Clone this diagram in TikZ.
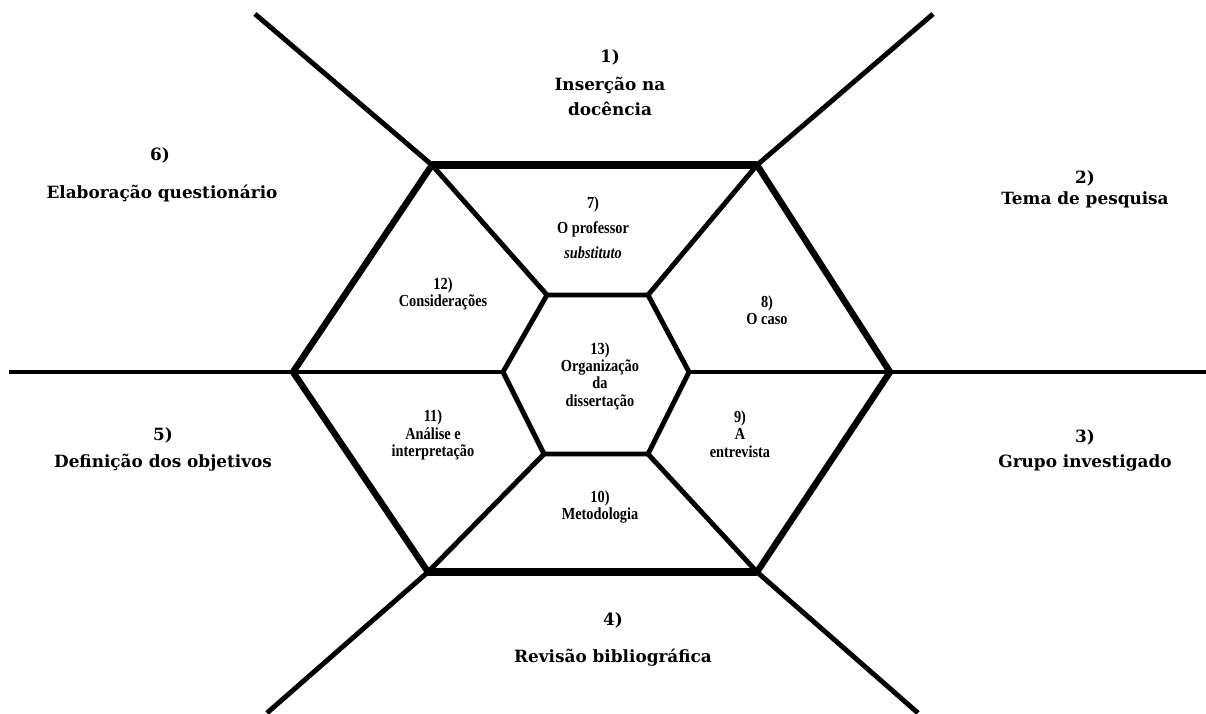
\documentclass[tikz,border=0pt]{standalone}
\usepackage{fontspec}
\setmainfont{Liberation Serif}
\newfontfamily\rotulofont{DejaVu Serif}
\newfontfamily\miolofont[FakeStretch=0.85]{Liberation Serif}
\tikzset{
	linha/.style={line width=3.5pt},
	lado/.style={line width=4.6pt},
	base/.style={line width=5.9pt},
	externo/.style={font=\rotulofont\bfseries\fontsize{12}{17.8}\selectfont, align=center, inner sep=0pt},
	interno/.style={font=\miolofont\bfseries\fontsize{12}{12.3}\selectfont, align=center, inner sep=0pt},
}

\begin{document}
\begin{tikzpicture}[x=0.025cm, y=-0.025cm]
		%%%%% START %%%%%
		\useasboundingbox (0, 0) rectangle (1206, 713);
		
		% hexagono externo
		\coordinate (ea) at (432, 165);
		\coordinate (eb) at (757, 165);
		\coordinate (ec) at (890, 372);
		\coordinate (ed) at (757, 572);
		\coordinate (ee) at (428, 572);
		\coordinate (ef) at (293, 372);
		
		% hexagono interno
		\coordinate (ia) at (547, 295);
		\coordinate (ib) at (648, 295);
		\coordinate (ic) at (689, 372);
		\coordinate (id) at (648, 454);
		\coordinate (ie) at (544, 454);
		\coordinate (if) at (503, 372);
		
		% pontas soltas
		\coordinate (pa) at (255, 14);
		\coordinate (pb) at (933, 14);
		\coordinate (pc) at (1206, 372);
		\coordinate (pd) at (918, 713);
		\coordinate (pe) at (267, 713);
		\coordinate (pf) at (9, 372);
		
		\draw[linha] (ea) -- (pa);
		\draw[linha] (eb) -- (pb);
		\draw[linha] (ec) -- (pc);
		\draw[linha] (ed) -- (pd);
		\draw[linha] (ee) -- (pe);
		\draw[linha] (ef) -- (pf);
		
		\draw[linha] (ea) -- (ia);
		\draw[linha] (eb) -- (ib);
		\draw[linha] (ec) -- (ic);
		\draw[linha] (ed) -- (id);
		\draw[linha] (ee) -- (ie);
		\draw[linha] (ef) -- (if);
		
		\draw[linha, line join=round] (ia) -- (ib) -- (ic) -- (id) -- (ie) -- (if) -- cycle;
		
		\draw[lado, line join=round] (eb) -- (ec) -- (ed);
		\draw[lado, line join=round] (ee) -- (ef) -- (ea);
		\draw[base] (ea) -- (eb);
		\draw[base] (ee) -- (ed);
		
		% rotulos de fora
		\node[externo] (n1) at (610, 57) {1)};
		\node[externo] (t1) at (610, 96) {Inserção na\\docência};
		\node[externo] (n2) at (1085, 178) {2)};
		\node[externo] (t2) at (1085, 200) {Tema de pesquisa};
		\node[externo] (n3) at (1085, 437) {3)};
		\node[externo] (t3) at (1085, 463) {Grupo investigado};
		\node[externo] (n4) at (613, 620) {4)};
		\node[externo] (t4) at (613, 658) {Revisão bibliográfica};
		\node[externo] (n5) at (163, 435) {5)};
		\node[externo] (t5) at (163, 463) {Definição dos objetivos};
		\node[externo] (n6) at (160, 155) {6)};
		\node[externo] (t6) at (162, 193) {Elaboração questionário};
		
		% rotulos de dentro
		\node[interno, font=\miolofont\bfseries\fontsize{12}{17.8}\selectfont] (t7) at (593, 228) {7)\\O professor\\\textit{substituto}};
		\node[interno] (t8) at (767, 310) {8)\\O caso};
		\node[interno] (t9) at (740, 434) {9)\\A\\entrevista};
		\node[interno] (t10) at (600, 507) {10)\\Metodologia};
		\node[interno] (t11) at (433, 435) {11)\\Análise e\\interpretação};
		\node[interno] (t12) at (443, 294) {12)\\Considerações};
		\node[interno] (t13) at (600, 376) {13)\\Organização\\da\\dissertação};
		
		%%%%% END %%%%%
\end{tikzpicture}
\end{document}
